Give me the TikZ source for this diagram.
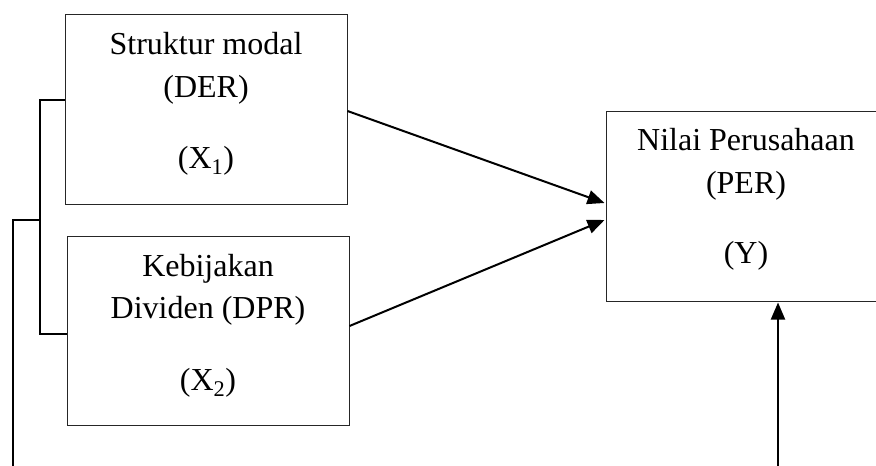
\documentclass[tikz,border=0pt]{standalone}
\usepackage{fontspec}
\setmainfont{Liberation Serif}
\usetikzlibrary{arrows.meta,calc}
\begin{document}
\begin{tikzpicture}[x=1pt,y=1pt,
  boxstyle/.style={draw=black!85,line width=1pt,minimum width=282pt,inner sep=0pt},
  txt/.style={anchor=base,inner sep=0pt,font=\fontsize{32}{40}\selectfont},
  conn/.style={line width=2pt,draw=black},
  arr/.style={conn,-{Triangle[length=17pt,width=14pt]}},
  brk/.style={line width=2pt,draw=black,line cap=butt}]
\useasboundingbox (0,0) rectangle (876,-466);
\clip (0,0) rectangle (876,-466);
% boxes
\node[boxstyle,minimum height=190pt] (b1) at (206,-109) {};
\node[boxstyle,minimum height=189pt] (b2) at (208,-330.5) {};
\node[boxstyle,minimum width=280pt,minimum height=190pt] (per) at (746,-206) {};
% texts
\node[txt] (t1a) at (206,-54) {Struktur modal};
\node[txt] (t1b) at (206,-97) {(DER)};
\node[txt] (t1c) at (206,-168) {(X\textsubscript{1})};
\node[txt] (t2a) at (208,-276) {Kebijakan};
\node[txt] (t2b) at (208,-318) {Dividen (DPR)};
\node[txt] (t2c) at (208,-390) {(X\textsubscript{2})};
\node[txt] (t3a) at (746,-150) {Nilai Perusahaan};
\node[txt] (t3b) at (746,-193) {(PER)};
\node[txt] (t3c) at (746,-263) {(Y)};
% arrows into PER
\draw[arr] ($(b1.east)+(0,-2)$) -- ($(per.west)+(-1,3)$);
\draw[arr] ($(b2.east)+(0,4.5)$) -- ($(per.west)+(-1,-14)$);
\coordinate (rb) at (778,-480);
\draw[arr] (rb) -- ($(rb |- per.south)+(0,-1)$);
% bracket
\coordinate (bt) at (40,-100);
\coordinate (bb) at (40,-334);
\coordinate (bm) at (40,-220);
\coordinate (lb) at (13,-480);
\draw[brk] (bt -| b1.west) -- (bt) -- (bb) -- (bb -| b2.west);
\draw[brk] (bm) -- (bm -| lb) -- (lb);
\end{tikzpicture}
\end{document}
